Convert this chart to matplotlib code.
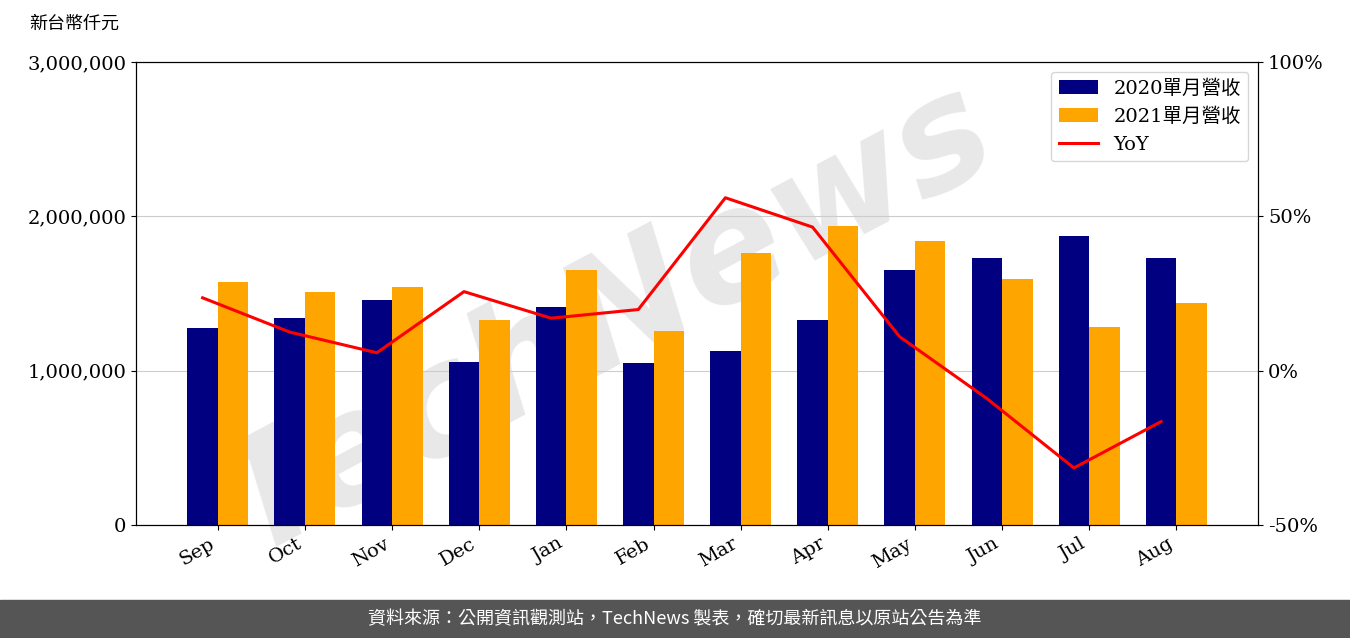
import matplotlib
matplotlib.use("Agg")
import matplotlib.pyplot as plt
import numpy as np
from matplotlib.ticker import FuncFormatter

months = ["Sep","Oct","Nov","Dec","Jan","Feb","Mar","Apr","May","Jun","Jul","Aug"]
rev2020 = [1275000,1340000,1455000,1055000,1410000,1050000,1130000,1325000,1650000,1730000,1875000,1730000]
rev2021 = [1575000,1510000,1540000,1325000,1650000,1255000,1765000,1940000,1840000,1595000,1280000,1440000]
yoy = [23.6,12.5,5.8,25.6,17.0,19.8,56.0,46.5,11.0,-9.0,-31.5,-16.5]

serif = ["DejaVu Serif", "Noto Sans CJK TC"]
cjk = ["Noto Sans CJK TC", "DejaVu Sans"]
plt.rcParams['font.family'] = serif

fig = plt.figure(figsize=(13.5, 6.38), dpi=100)
fig.text(0.45, 0.5, "TechNews", fontsize=110, rotation=28, color="#e8e8e8",
         ha="center", va="center", family="DejaVu Sans", fontweight="bold", style="italic", zorder=-5)
ax = fig.add_axes([0.1007, 0.177, 0.8313, 0.726])
ax.patch.set_alpha(0)
x = np.arange(len(months))
w = 0.35
ax.bar(x - w/2, rev2020, w, color="#000080", label="2020單月營收", zorder=2)
ax.bar(x + w/2, rev2021, w, color="#FFA500", label="2021單月營收", zorder=2)
ax.set_ylim(0, 3000000)
ax.set_yticks([0,1000000,2000000,3000000])
ax.yaxis.set_major_formatter(FuncFormatter(lambda v, p: f"{int(v):,}"))
ax.grid(axis="y", color="#cccccc", zorder=0)
ax.set_xlim(-0.94, 11.94)
ax.set_xticks(x)
ax.set_xticklabels(months, rotation=30, ha="right")
ax.tick_params(labelsize=14)
ax2 = ax.twinx()
ax2.patch.set_alpha(0)
ax2.plot(x - w/2, yoy, color="red", lw=2.2, label="YoY")
ax2.set_ylim(-50, 100)
ax2.set_yticks([-50, 0, 50, 100])
ax2.yaxis.set_major_formatter(FuncFormatter(lambda v, p: f"{int(v)}%"))
ax2.tick_params(labelsize=14)
h1, l1 = ax.get_legend_handles_labels()
h2, l2 = ax2.get_legend_handles_labels()
ax2.legend(h1 + h2, l1 + l2, loc="upper right", prop={"family": serif, "size": 14})
fig.text(0.022, 0.955, "新台幣仟元", family=cjk, fontsize=13)
fig.patches.append(plt.Rectangle((0, 0), 1, 0.06, transform=fig.transFigure, color="#555555"))
fig.text(0.5, 0.03, "資料來源：公開資訊觀測站，TechNews 製表，確切最新訊息以原站公告為準",
         color="white", ha="center", va="center", family=cjk, fontsize=13)
fig.savefig("out.png", dpi=100)
